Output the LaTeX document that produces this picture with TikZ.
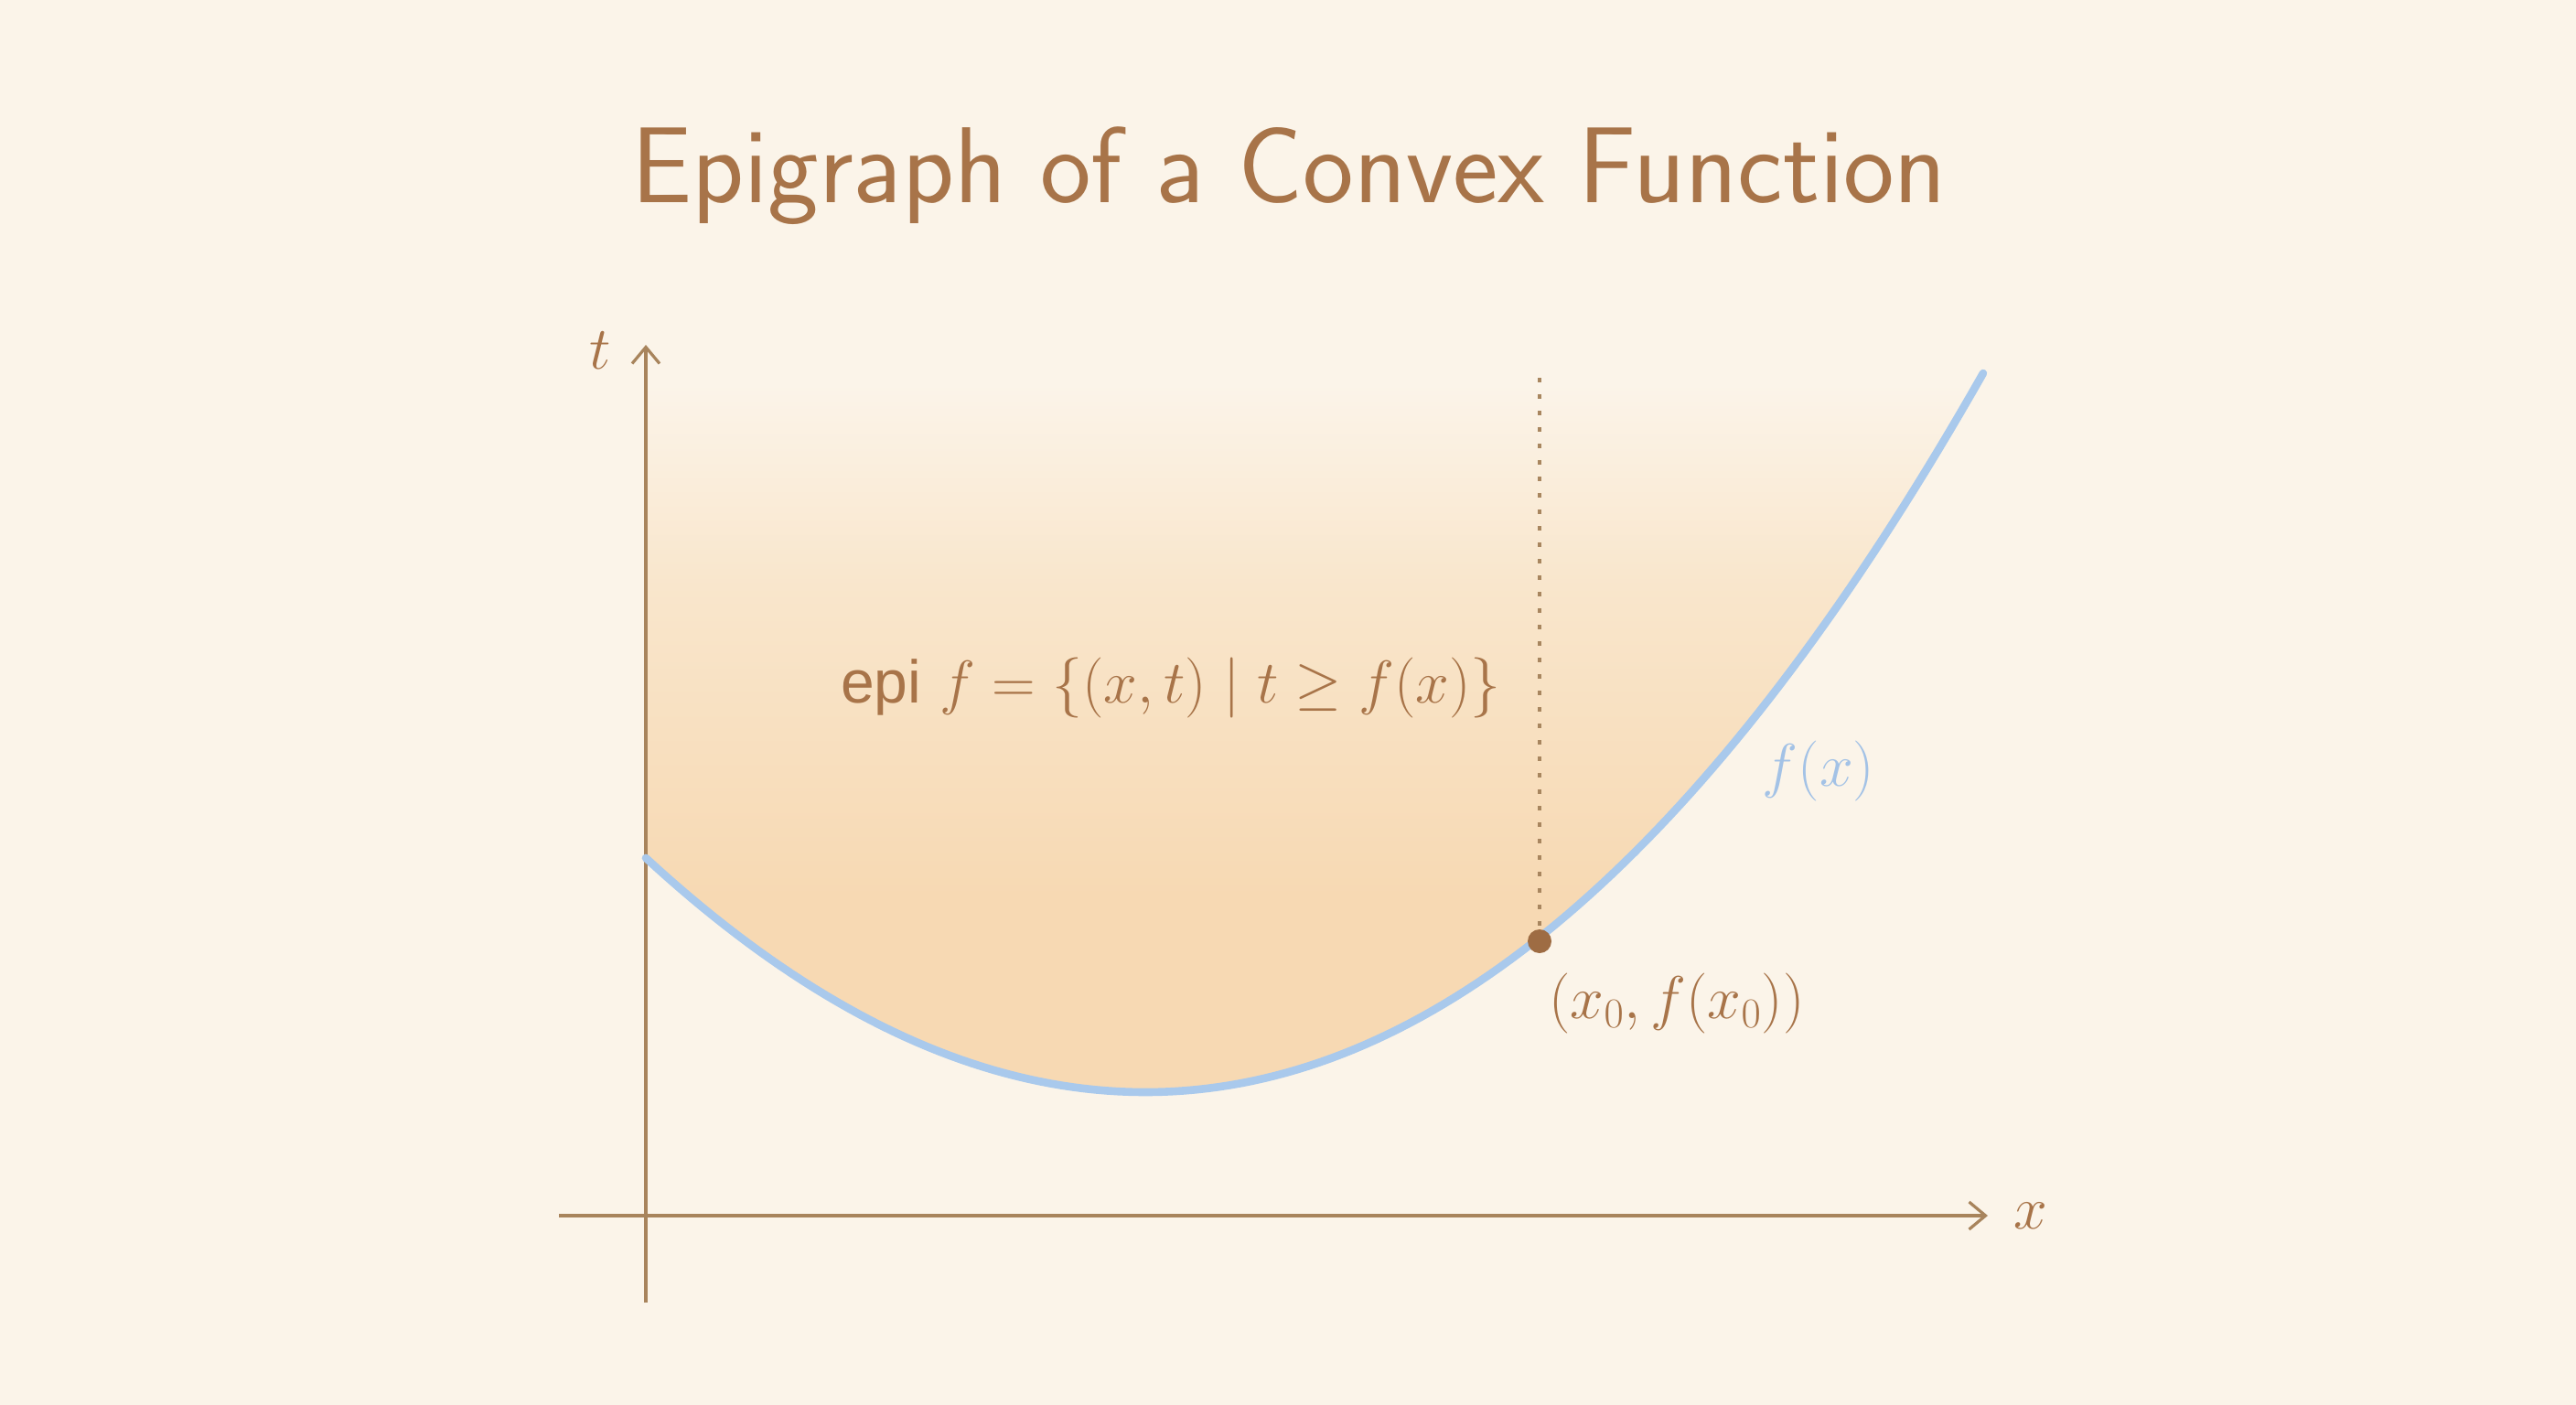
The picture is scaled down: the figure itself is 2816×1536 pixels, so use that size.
\RequirePackage{fix-cm}
\documentclass[tikz,border=0pt]{standalone}
\usepackage{fontspec}
\usepackage{amsmath}
\usetikzlibrary{arrows.meta}
\newfontfamily\epifont{Liberation Sans}
\definecolor{bgc}{HTML}{FBF4E9}
\definecolor{peachA}{HTML}{F9E6CC}
\definecolor{peachB}{HTML}{F7D9B3}
\definecolor{brownT}{HTML}{A87449}
\definecolor{axisc}{HTML}{A8845C}
\definecolor{dotc}{HTML}{A8865F}
\definecolor{ptc}{HTML}{9E6C43}
\definecolor{curvec}{HTML}{A9C9EC}
\definecolor{flab}{HTML}{A3C2E6}
\begin{document}
\begin{tikzpicture}[x=0.5pt,y=-0.5pt,
  axisline/.style={draw=axisc,line width=1.6pt},
  mathlab/.style={text=brownT,font=\fontsize{33}{36}\selectfont,inner sep=0pt},
  curveline/.style={draw=curvec,line width=4.3pt,line cap=round}]
\useasboundingbox (0,0) rectangle (2816,1536);
\fill[bgc] (0,0) rectangle (2816,1536);
% title
\node[text=brownT,font=\sffamily\fontsize{59}{62}\selectfont,anchor=base,inner sep=0pt] (title) at (1409,221) {Epigraph of a Convex Function};
% epigraph fill
\begin{scope}
\clip (706,938) -- (706,400) -- (2172,400) -- (2168,408)
  -- plot[domain=9.16:-5.46,samples=120] ({1252+100*\x},{1194-8.88*\x*\x-0.0534*\x*\x*\x}) -- cycle;
\fill[top color=bgc,bottom color=peachA] (700,420) rectangle (2180,640);
\fill[top color=peachA,bottom color=peachB] (700,639) rectangle (2180,980);
\fill[peachB] (700,979) rectangle (2180,1210);
\end{scope}
% axes
\coordinate (xs) at (611,1329);
\coordinate (xe) at (2173,1329);
\coordinate (ys) at (706,1424);
\coordinate (ye) at (706,377);
\draw[axisline,-{Straight Barb[length=9pt,width=15pt,line width=1.6pt]}] (xs) -- (xe);
\draw[axisline,-{Straight Barb[length=9pt,width=15pt,line width=1.6pt]}] (ys) -- (ye);
\node[mathlab] (xl) at (2220,1329) {$x$};
\node[mathlab] (tl) at (656,383) {$t$};
% dotted line
\coordinate (dtop) at (1683,413);
\coordinate (p0) at (1683,1029);
\draw[dotc,line width=2.3pt,dash pattern=on 2.3pt off 6.7pt] (dtop) -- (p0);
% curve
\draw[curveline] plot[domain=-5.46:9.16,samples=120] ({1252+100*\x},{1194-8.88*\x*\x-0.0534*\x*\x*\x});
% point
\fill[ptc] (p0) circle (13);
\node[mathlab] (pl) at (1833,1097) {$(x_0, f(x_0))$};
\node[mathlab,text=flab] (fl) at (1988,843) {$f(x)$};
\node[mathlab] (epi) at (1280,752) {{\epifont epi} $f = \{(x,t) \mid t \geq f(x)\}$};
\end{tikzpicture}
\end{document}
